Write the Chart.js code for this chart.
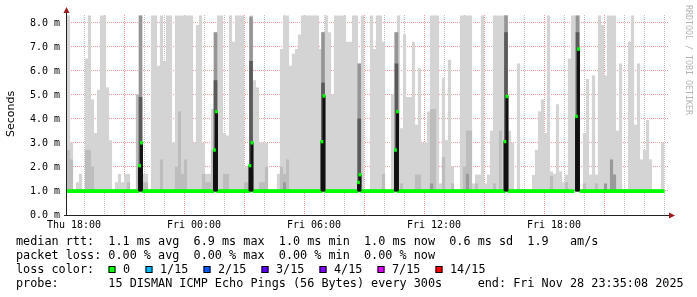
<!DOCTYPE html>
<html><head><meta charset="utf-8">
<script src="https://cdn.jsdelivr.net/npm/chart.js@4"></script>
<style>html,body{margin:0;padding:0;background:#fff;}#wrap{width:697px;height:297px;position:relative;}</style>
</head><body><div id="wrap"><canvas id="c" width="697" height="297"></canvas></div>
<script>
// ---- data (times in minutes relative to Thu 18:00) ----
const binStart = -16.5;   // centre of first smoke bin
const binStep = 9;        // minutes per smoke bin
const smokeLight = [
8.3,3.0,1.0,1.35,1.7,1.0,6.5,8.3,4.8,3.4,
5.2,8.3,8.3,5.3,3.1,1.0,1.35,1.7,1.35,1.7,
1.7,1.0,1.0,5.0,8.3,1.7,1.7,1.0,8.3,8.3,
6.2,8.3,6.4,8.3,8.3,3.0,8.3,8.3,8.3,8.3,
8.3,8.3,3.0,7.9,8.3,3.0,1.7,1.7,4.4,7.6,
8.3,8.3,3.4,3.3,8.3,7.2,8.3,8.3,8.3,2.0,
2.0,8.3,5.6,5.3,3.0,3.0,3.0,1.0,1.0,1.0,
1.7,6.9,8.3,8.3,6.2,6.7,6.9,7.5,8.3,8.3,
8.3,8.3,8.3,8.3,6.9,7.6,8.3,7.6,5.0,8.3,
8.3,8.3,8.3,7.2,7.2,8.3,8.3,6.3,8.3,1.0,
1.0,8.3,6.9,8.3,8.3,7.2,1.0,1.0,5.0,7.6,
8.3,3.6,7.5,4.9,4.9,7.2,3.75,6.1,3.0,3.0,
4.3,8.3,8.3,8.3,1.3,5.7,3.1,6.45,2.0,1.0,
1.0,8.3,8.3,8.3,8.3,1.3,1.67,1.67,8.3,1.3,
1.67,3.5,8.3,8.3,8.3,8.3,8.3,3.5,3.0,1.0,
6.3,1.0,1.0,1.0,1.0,1.65,2.7,4.3,4.8,3.4,
8.3,1.8,1.7,4.6,1.8,1.35,1.67,6.5,8.3,8.3,
8.3,1.0,3.4,5.65,1.67,5.8,1.67,8.3,7.9,5.8,
8.3,8.3,8.3,3.5,6.3,1.0,1.0,7.2,8.3,3.75,
6.3,2.3,2.7,3.95,2.3,1.0,1.0,1.0,3.0];
const smokeMidIdx = [0,1,6,7,8,20,23,25,26,31,36,37,38,39,45,46,47,48,52,53,59,60,64,65,66,71,72,73,105,111,116,117,121,122,125,128,132,133,134,136,142,144,161,166,172,176];
const smokeMidVal = [2.7,2.3,2.7,2.7,2.0,1.35,5.0,1.35,1.35,2.3,2.0,4.3,1.7,2.3,1.7,1.35,1.35,2.7,1.7,1.7,1.35,1.35,1.35,1.35,2.0,2.0,1.7,2.3,1.7,1.3,1.67,1.67,4.4,4.4,2.4,1.3,2.0,3.5,3.5,1.3,1.3,3.5,1.6,1.35,1.3,1.3];
const smokeDarkIdx = [72,121,133,179,181,182];
const smokeDarkVal = [1.35,1.3,1.7,1.3,2.3,1.67];
const medianGapIdx = [24,49,61,85,97,109,146,169,170]; // bins where the median line breaks
const medianLevel = 1.0;
// spikes: black median bars with green marker
const spikeTimes   = [196.5,202.5,421.5,427.5,528,534,744,750,853.5,858,964.5,970.5,1293,1299,1507.5,1513.5];
const spikeMedians = [2.05,3.0,2.7,4.3,2.05,3.0,3.05,4.95,1.35,1.67,2.7,4.3,3.05,4.93,4.1,6.9];
// dark smoke column behind each spike
const columnTimes = [199.5,424.5,531,747,855.75,967.5,1296,1510.5];
const columnTop   = [8.3,7.6,8.25,7.6,6.3,7.6,8.3,8.3];
const columnMid   = [4.9,5.6,6.4,5.5,4.0,6.3,7.6,7.6];
const xTickValues = [0,360,720,1080,1440];
const xTickLabels = ['Thu 18:00','Fri 00:00','Fri 06:00','Fri 12:00','Fri 18:00'];
const legendLines = [
 'median rtt:  1.1 ms avg  6.9 ms max  1.0 ms min  1.0 ms now  0.6 ms sd  1.9   am/s',
 'packet loss: 0.00 % avg  0.00 % max  0.00 % min  0.00 % now',
 'loss color:',
 'probe:       15 DISMAN ICMP Echo Pings (56 Bytes) every 300s     end: Fri Nov 28 23:35:08 2025'];
const lossLabels = ['0','1/15','2/15','3/15','4/15','7/15','14/15'];
const lossColors = ['#00ff00','#00b8ff','#0059ff','#5e00ff','#7e00ff','#dd00ff','#ff0000'];

// ---- build datasets ----
const binTime = i => binStart + i*binStep;
const lightData = smokeLight.map((v,i)=>({x:binTime(i), y:[1.0,v]}));
const midData = smokeMidIdx.map((b,k)=>({x:binTime(b), y:[1.0,smokeMidVal[k]]}));
const darkData = smokeDarkIdx.map((b,k)=>({x:binTime(b), y:[1.0,smokeDarkVal[k]]}));
const medData = smokeLight.map((v,i)=>({x:binTime(i), y: medianGapIdx.includes(i)?null:[medianLevel-0.07,medianLevel+0.05]}));
const spikeData = spikeTimes.map((t,k)=>({x:t, y:[1.0,spikeMedians[k]]}));
const markData = spikeTimes.map((t,k)=>({x:t, y:[spikeMedians[k]-0.05,spikeMedians[k]+0.06]}));
const colTopData = columnTimes.map((t,k)=>({x:t, y:[1.0,columnTop[k]]}));
const colMidData = columnTimes.map((t,k)=>({x:t, y:[1.0,columnMid[k]]}));

const base = {grouped:false, borderWidth:0, borderSkipped:false};
const datasets = [
 {...base, data:markData, backgroundColor:'#00ff00', barThickness:2, order:1, onTop:true},
 {...base, data:spikeData, backgroundColor:'#111111', barThickness:2, order:2, onTop:true},
 {...base, data:medData, backgroundColor:'#00ff00', barThickness:3, order:3, onTop:true},
 {...base, data:colMidData, backgroundColor:'#5a5a5a', barThickness:3, order:4},
 {...base, data:colTopData, backgroundColor:'#959595', barThickness:3, order:5},
 {...base, data:darkData, backgroundColor:'#9a9a9a', barThickness:2.5, order:6},
 {...base, data:midData, backgroundColor:'#bdbdbd', barThickness:2.5, order:7},
 {...base, data:lightData, backgroundColor:'#d4d4d4', barThickness:2.5, order:8},
];

const MONO = "'DejaVu Sans Mono', monospace";
const majorRed = 'rgba(235,120,120,0.75)';
const minorGrey = 'rgba(150,150,150,0.6)';

const overlay = {
 id:'overlay',
 afterDraw(chart){
  const ctx = chart.ctx, a = chart.chartArea;
  ctx.save();
  ctx.beginPath(); ctx.rect(a.left,a.top,a.right-a.left,a.bottom-a.top); ctx.clip();
  for (let i=chart.data.datasets.length-1;i>=0;i--){
    if (chart.data.datasets[i].onTop) chart.getDatasetMeta(i).controller.draw();
  }
  ctx.restore();
  ctx.save();
  ctx.strokeStyle = '#222'; ctx.lineWidth = 1;
  ctx.beginPath(); ctx.moveTo(a.left-0.5, a.bottom+0.5); ctx.lineTo(a.left-0.5, 10); ctx.stroke();
  ctx.beginPath(); ctx.moveTo(a.left-3, a.bottom+0.5); ctx.lineTo(671, a.bottom+0.5); ctx.stroke();
  ctx.fillStyle = '#9b1c1c';
  ctx.beginPath(); ctx.moveTo(a.left-3.5, 13); ctx.lineTo(a.left+2.5, 13); ctx.lineTo(a.left-0.5, 7); ctx.closePath(); ctx.fill();
  ctx.beginPath(); ctx.moveTo(669, a.bottom-2.5); ctx.lineTo(669, a.bottom+3.5); ctx.lineTo(675, a.bottom+0.5); ctx.closePath(); ctx.fill();
  ctx.fillStyle = '#000';
  ctx.font = "11px 'DejaVu Sans', sans-serif";
  ctx.textAlign='center'; ctx.textBaseline='middle';
  ctx.save(); ctx.translate(11, 114); ctx.rotate(-Math.PI/2); ctx.fillText('Seconds',0,0); ctx.restore();
  ctx.fillStyle = '#b4b4b4';
  ctx.font = "8.3px "+MONO;
  ctx.textAlign='left'; ctx.textBaseline='middle';
  ctx.save(); ctx.translate(688, 5); ctx.rotate(Math.PI/2); ctx.fillText('RRDTOOL / TOBI OETIKER',0,0); ctx.restore();
  ctx.fillStyle = '#000';
  ctx.font = "11.8px "+MONO;
  ctx.textAlign='left'; ctx.textBaseline='alphabetic';
  const ys = [245,259,273,287];
  legendLines.forEach((s,i)=>ctx.fillText(s,16,ys[i]));
  const sq = [108.5,145.5,203.5,261.5,319.5,377.5,435.5];
  lossLabels.forEach((l,i)=>{
    ctx.fillStyle = lossColors[i];
    ctx.fillRect(sq[i],266,7,7);
    ctx.strokeStyle='#000'; ctx.strokeRect(sq[i]+0.5,266.5,6,6);
    ctx.fillStyle='#000';
    ctx.fillText(l, sq[i]+14.5, 273);
  });
  ctx.restore();
 }
};

new Chart(document.getElementById('c'), {
 type:'bar',
 data:{datasets},
 options:{
  responsive:false, animation:false, events:[],
  layout:{padding:{left:0,top:15,right:29,bottom:0}},
  plugins:{legend:{display:false}, tooltip:{enabled:false}},
  scales:{
   x:{type:'linear', min:-21, max:1782, offset:false, z:1,
      afterBuildTicks(s){ const t=[]; for(let m=0;m<=1740;m+=60) t.push({value:m}); s.ticks=t; },
      afterFit(s){ s.height = 82; },
      grid:{drawTicks:false, lineWidth:1, color:c=> (c.tick && c.tick.value%180===0)? majorRed : minorGrey},
      border:{display:false, dash:[1,1]},
      ticks:{autoSkip:false, maxRotation:0, padding:4, color:'#000', font:{family:MONO, size:10},
        callback:v=>{const k=xTickValues.indexOf(v); return k>=0?xTickLabels[k]:'';}}
   },
   y:{min:0, max:8.33, z:1,
      afterBuildTicks(s){ const t=[]; for(let k=0;k<=16;k++) t.push({value:k/2}); s.ticks=t; },
      afterFit(s){ s.width = 67; },
      grid:{drawTicks:false, lineWidth:1, color:c=> (c.tick && c.tick.value%1===0)? majorRed : minorGrey},
      border:{display:false, dash:[1,1]},
      ticks:{padding:7, color:'#000', font:{family:MONO, size:10},
        callback:v=> (v%1===0)? v.toFixed(1)+' m' : ''}
   }
  }
 },
 plugins:[overlay]
});
</script></body></html>
